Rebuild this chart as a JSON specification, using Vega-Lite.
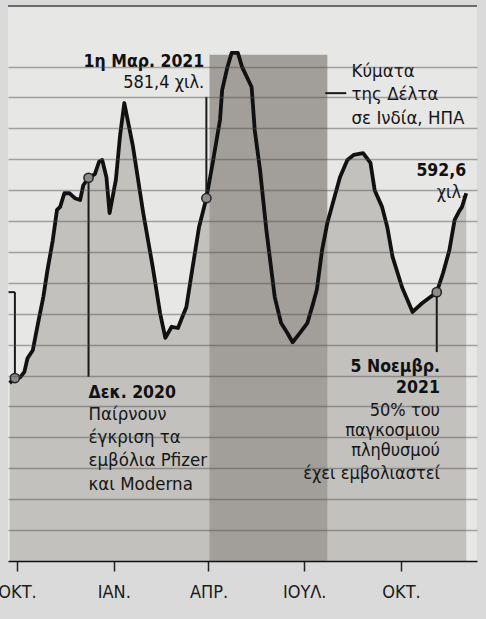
{
  "$schema": "https://vega.github.io/schema/vega-lite/v6.json",
  "width": 469,
  "height": 555,
  "autosize": "none",
  "padding": {"left": 8, "top": 6, "right": 9, "bottom": 58},
  "background": "#dadada",
  "view": {"fill": "#e7e7e6", "stroke": null},
  "data": {"values": [
      {"d": "2020-09-24", "v": 288}, {"d": "2020-09-29", "v": 296}, {"d": "2020-10-04", "v": 297},
      {"d": "2020-10-08", "v": 306}, {"d": "2020-10-11", "v": 328}, {"d": "2020-10-16", "v": 341},
      {"d": "2020-10-21", "v": 385}, {"d": "2020-10-26", "v": 427}, {"d": "2020-10-30", "v": 471},
      {"d": "2020-11-04", "v": 519}, {"d": "2020-11-08", "v": 568}, {"d": "2020-11-11", "v": 573},
      {"d": "2020-11-15", "v": 595}, {"d": "2020-11-20", "v": 595}, {"d": "2020-11-25", "v": 587},
      {"d": "2020-11-30", "v": 584}, {"d": "2020-12-03", "v": 608}, {"d": "2020-12-08", "v": 620},
      {"d": "2020-12-14", "v": 626}, {"d": "2020-12-18", "v": 646}, {"d": "2020-12-21", "v": 649},
      {"d": "2020-12-25", "v": 621}, {"d": "2020-12-28", "v": 563}, {"d": "2021-01-03", "v": 617},
      {"d": "2021-01-07", "v": 689}, {"d": "2021-01-11", "v": 741}, {"d": "2021-01-19", "v": 673},
      {"d": "2021-01-29", "v": 563}, {"d": "2021-02-07", "v": 476}, {"d": "2021-02-14", "v": 401},
      {"d": "2021-02-19", "v": 361}, {"d": "2021-02-25", "v": 379}, {"d": "2021-03-03", "v": 377},
      {"d": "2021-03-06", "v": 390}, {"d": "2021-03-11", "v": 411}, {"d": "2021-03-17", "v": 476},
      {"d": "2021-03-23", "v": 540}, {"d": "2021-03-30", "v": 587}, {"d": "2021-04-05", "v": 644},
      {"d": "2021-04-12", "v": 714}, {"d": "2021-04-14", "v": 762}, {"d": "2021-04-19", "v": 799},
      {"d": "2021-04-23", "v": 822}, {"d": "2021-04-29", "v": 822}, {"d": "2021-05-03", "v": 799},
      {"d": "2021-05-12", "v": 767}, {"d": "2021-05-15", "v": 697}, {"d": "2021-05-20", "v": 633},
      {"d": "2021-05-26", "v": 536}, {"d": "2021-06-03", "v": 427}, {"d": "2021-06-09", "v": 385},
      {"d": "2021-06-15", "v": 369}, {"d": "2021-06-20", "v": 354}, {"d": "2021-06-27", "v": 369},
      {"d": "2021-07-04", "v": 385}, {"d": "2021-07-09", "v": 414}, {"d": "2021-07-13", "v": 439},
      {"d": "2021-07-18", "v": 503}, {"d": "2021-07-23", "v": 547}, {"d": "2021-07-29", "v": 584},
      {"d": "2021-08-04", "v": 621}, {"d": "2021-08-11", "v": 649}, {"d": "2021-08-17", "v": 657},
      {"d": "2021-08-26", "v": 660}, {"d": "2021-09-02", "v": 644}, {"d": "2021-09-06", "v": 600},
      {"d": "2021-09-13", "v": 573}, {"d": "2021-09-18", "v": 540}, {"d": "2021-09-23", "v": 492},
      {"d": "2021-10-02", "v": 443}, {"d": "2021-10-12", "v": 403}, {"d": "2021-10-21", "v": 417},
      {"d": "2021-11-04", "v": 435}, {"d": "2021-11-10", "v": 466}, {"d": "2021-11-16", "v": 503},
      {"d": "2021-11-21", "v": 552}, {"d": "2021-11-25", "v": 565}, {"d": "2021-11-28", "v": 573},
      {"d": "2021-12-02", "v": 595}
  ]},
  "encoding": {
    "x": {
      "field": "d", "type": "temporal",
      "scale": {"type": "utc", "domain": [
        {"year": 2020, "month": 9, "date": 22, "hours": 10, "minutes": 40, "utc": true},
        {"year": 2021, "month": 12, "date": 12, "hours": 6, "utc": true}
      ]},
      "axis": {
        "title": null, "grid": false, "zindex": 1,
        "values": [
          {"year": 2020, "month": 10, "date": 1, "utc": true},
          {"year": 2021, "month": 1, "date": 1, "utc": true},
          {"year": 2021, "month": 4, "date": 1, "utc": true},
          {"year": 2021, "month": 7, "date": 1, "utc": true},
          {"year": 2021, "month": 10, "date": 1, "utc": true}
        ],
        "labelExpr": "['ΙΑΝ.','','','ΑΠΡ.','','','ΙΟΥΛ.','','','ΟΚΤ.','',''][utcmonth(datum.value)]",
        "domainColor": "#111", "domainWidth": 1.5,
        "tickColor": "#222", "tickSize": 10, "tickWidth": 1.5,
        "labelFont": "DejaVu Sans Condensed, Liberation Sans, sans-serif", "labelFontSize": 18, "labelColor": "#1a1a1a",
        "labelBaseline": "alphabetic", "labelPadding": 26, "labelFlush": false, "labelOverlap": false
      }
    },
    "y": {"field": "v", "type": "quantitative",
      "scale": {"domain": [0, 898], "nice": false, "zero": true},
      "axis": {"title": null, "labels": false, "ticks": false, "domain": false,
        "values": [50, 100, 150, 200, 250, 300, 350, 400, 450, 500, 550, 600, 650, 700, 750, 800],
        "grid": true, "gridColor": "#4a4a4a", "gridOpacity": 0.45, "gridWidth": 1.3, "zindex": 1}}
  },
  "layer": [
    {
      "mark": {"type": "area", "color": "#c3c1be"}
    },
    {
      "data": {"values": [{"d": "2021-04-02", "d2": "2021-07-23", "v": 0, "v2": 819}]},
      "mark": {"type": "rect", "color": "#a29e99"},
      "encoding": {"x2": {"field": "d2"}, "y2": {"field": "v2"}}
    },
    {
      "data": {"values": [{"v": 898}]},
      "mark": {"type": "rule", "color": "#444", "strokeWidth": 1.5},
      "encoding": {"x": null}
    },
    {
      "mark": {"type": "line", "color": "#111", "strokeWidth": 3.8, "strokeJoin": "round"}
    },
    {
      "data": {"values": [
        {"d": "2020-09-29", "d2": "2020-09-29", "v": 296, "v2": 435},
        {"d": "2020-09-23", "d2": "2020-09-29", "v": 435, "v2": 435},
        {"d": "2020-12-08", "d2": "2020-12-08", "v": 298, "v2": 620},
        {"d": "2021-03-30", "d2": "2021-03-30", "v": 587, "v2": 751},
        {"d": "2021-07-21", "d2": "2021-08-10", "v": 757, "v2": 757},
        {"d": "2021-11-04", "d2": "2021-11-04", "v": 338, "v2": 435}
      ]},
      "mark": {"type": "rule", "color": "#1a1a1a", "strokeWidth": 2},
      "encoding": {"x2": {"field": "d2"}, "y2": {"field": "v2"}}
    },
    {
      "data": {"values": [
        {"d": "2020-09-29", "v": 296}, {"d": "2020-12-08", "v": 620},
        {"d": "2021-03-30", "v": 587}, {"d": "2021-11-04", "v": 435}
      ]},
      "mark": {"type": "circle", "size": 85, "fill": "#8c8c8c", "stroke": "#222", "strokeWidth": 1.5, "opacity": 1}
    },
    {
      "data": {"values": [
        {"d": "2021-03-28", "v": 799, "t": "1η Μαρ. 2021"},
        {"d": "2021-12-02", "v": 623, "t": "592,6"},
        {"d": "2021-11-07", "v": 306, "t": "5 Νοεμβρ."},
        {"d": "2021-11-07", "v": 272, "t": "2021"}
      ]},
      "mark": {"type": "text", "align": "right", "baseline": "alphabetic", "font": "DejaVu Sans Condensed, Liberation Sans, sans-serif", "fontSize": 17.5, "fontWeight": "bold", "color": "#111"},
      "encoding": {"text": {"field": "t"}}
    },
    {
      "data": {"values": [
        {"d": "2021-03-28", "v": 765, "t": "581,4 χιλ."},
        {"d": "2021-12-02", "v": 587, "t": "χιλ."},
        {"d": "2021-11-07", "v": 235, "t": "50% του"},
        {"d": "2021-11-07", "v": 202, "t": "παγκοσμιου"},
        {"d": "2021-11-07", "v": 170, "t": "πληθυσμού"},
        {"d": "2021-11-07", "v": 133, "t": "έχει εμβολιαστεί"}
      ]},
      "mark": {"type": "text", "align": "right", "baseline": "alphabetic", "font": "DejaVu Sans Condensed, Liberation Sans, sans-serif", "fontSize": 18, "color": "#151515"},
      "encoding": {"text": {"field": "t"}}
    },
    {
      "data": {"values": [
        {"d": "2020-12-08", "v": 263, "t": "Δεκ. 2020"}
      ]},
      "mark": {"type": "text", "align": "left", "baseline": "alphabetic", "font": "DejaVu Sans Condensed, Liberation Sans, sans-serif", "fontSize": 17.5, "fontWeight": "bold", "color": "#111"},
      "encoding": {"text": {"field": "t"}}
    },
    {
      "data": {"values": [
        {"d": "2020-12-08", "v": 228, "t": "Παίρνουν"},
        {"d": "2020-12-08", "v": 191, "t": "έγκριση τα"},
        {"d": "2020-12-08", "v": 154, "t": "εμβόλια Pfizer"},
        {"d": "2020-12-08", "v": 115, "t": "και Moderna"},
        {"d": "2021-08-15", "v": 783, "t": "Κύματα"},
        {"d": "2021-08-15", "v": 746, "t": "της Δέλτα"},
        {"d": "2021-08-15", "v": 707, "t": "σε Ινδία, ΗΠΑ"}
      ]},
      "mark": {"type": "text", "align": "left", "baseline": "alphabetic", "font": "DejaVu Sans Condensed, Liberation Sans, sans-serif", "fontSize": 18.5, "color": "#151515"},
      "encoding": {"text": {"field": "t"}}
    }
  ]
}
